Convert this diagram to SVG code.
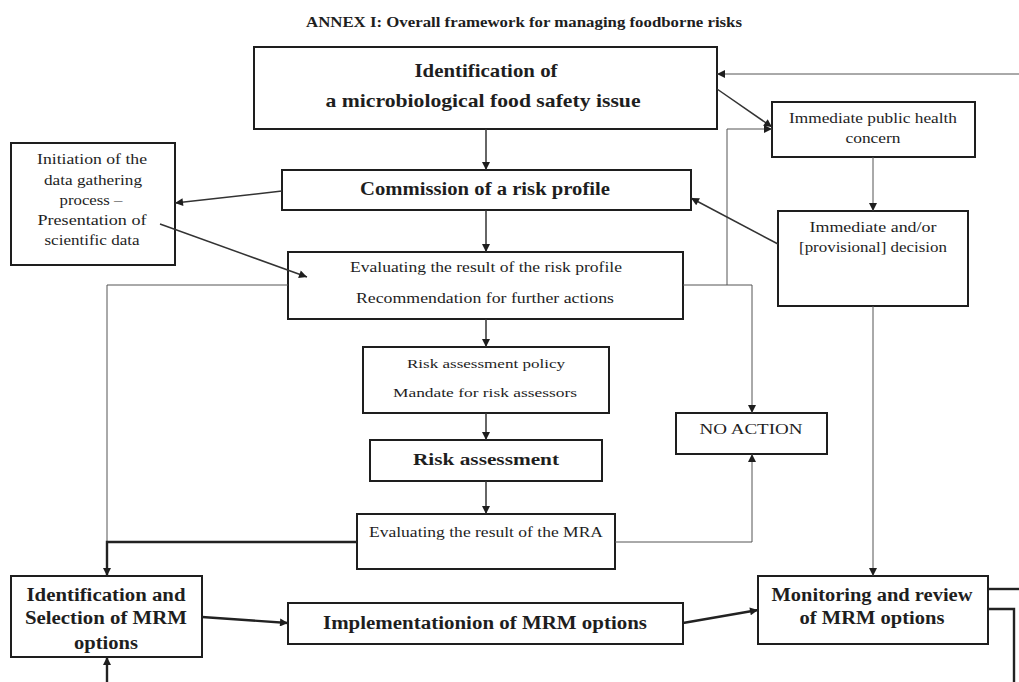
<svg xmlns="http://www.w3.org/2000/svg" width="1019" height="682" viewBox="0 0 1019 682">
<style>
.box{fill:#fff;stroke:#1e1e1e;stroke-width:2}
text{font-family:"Liberation Serif","Times New Roman",serif;fill:#1e1e1e;text-anchor:middle;dominant-baseline:central}
.b{font-weight:bold}
.r{font-weight:normal}
.c{fill:none;stroke:#333}
.thin{stroke-width:1;stroke:#555}
.med{stroke-width:1.5}
.thick{stroke-width:2.4;stroke:#222}
</style>
<defs>
<marker id="ah" viewBox="0 0 10 10" refX="10" refY="5" markerWidth="9" markerHeight="8" markerUnits="userSpaceOnUse" orient="auto">
<path d="M0,0 L10,5 L0,10 z" fill="#1e1e1e"/>
</marker>
</defs>
<rect width="1019" height="682" fill="#fff"/>
<text id="title" class="b" x="524" y="22" font-size="15" textLength="436" lengthAdjust="spacingAndGlyphs">ANNEX I: Overall framework for managing foodborne risks</text>

<g id="nodeA">
<rect class="box" x="254" y="47" width="463" height="82"/>
<text class="b" x="486" y="70" font-size="19" textLength="143" lengthAdjust="spacingAndGlyphs">Identification of</text>
<text class="b" x="483" y="100" font-size="19" textLength="315" lengthAdjust="spacingAndGlyphs">a microbiological food safety issue</text>
</g>
<g id="nodeB">
<rect class="box" x="772" y="102" width="203" height="55"/>
<text class="r" x="873" y="118" font-size="14" textLength="168" lengthAdjust="spacingAndGlyphs">Immediate public health</text>
<text class="r" x="873" y="138" font-size="14" textLength="55" lengthAdjust="spacingAndGlyphs">concern</text>
</g>
<g id="nodeC">
<rect class="box" x="11" y="143" width="164" height="122"/>
<text class="r" x="92" y="159" font-size="15" textLength="110" lengthAdjust="spacingAndGlyphs">Initiation of the</text>
<text class="r" x="93" y="180" font-size="15" textLength="98" lengthAdjust="spacingAndGlyphs">data gathering</text>
<text class="r" x="91" y="200" font-size="15" textLength="63" lengthAdjust="spacingAndGlyphs">process –</text>
<text class="r" x="92" y="220" font-size="15" textLength="109" lengthAdjust="spacingAndGlyphs">Presentation of</text>
<text class="r" x="92" y="240" font-size="15" textLength="95" lengthAdjust="spacingAndGlyphs">scientific data</text>
</g>
<g id="nodeD">
<rect class="box" x="282" y="170" width="409" height="40"/>
<text class="b" x="485" y="189" font-size="18" textLength="250" lengthAdjust="spacingAndGlyphs">Commission of a risk profile</text>
</g>
<g id="nodeE">
<rect class="box" x="778" y="211" width="190" height="95"/>
<text class="r" x="873" y="227" font-size="14" textLength="127" lengthAdjust="spacingAndGlyphs">Immediate and/or</text>
<text class="r" x="873" y="247" font-size="14" textLength="148" lengthAdjust="spacingAndGlyphs">[provisional] decision</text>
</g>
<g id="nodeF">
<rect class="box" x="288" y="252" width="395" height="67"/>
<text class="r" x="486" y="267" font-size="15" textLength="272" lengthAdjust="spacingAndGlyphs">Evaluating the result of the risk profile</text>
<text class="r" x="485" y="298" font-size="15" textLength="258" lengthAdjust="spacingAndGlyphs">Recommendation for further actions</text>
</g>
<g id="nodeG">
<rect class="box" x="363" y="347" width="246" height="66"/>
<text class="r" x="486" y="363" font-size="13" textLength="158" lengthAdjust="spacingAndGlyphs">Risk assessment policy</text>
<text class="r" x="485" y="392" font-size="13" textLength="184" lengthAdjust="spacingAndGlyphs">Mandate for risk assessors</text>
</g>
<g id="nodeH">
<rect class="box" x="676" y="413" width="151" height="41"/>
<text class="r" x="751" y="429" font-size="14" textLength="103" lengthAdjust="spacingAndGlyphs">NO ACTION</text>
</g>
<g id="nodeI">
<rect class="box" x="370" y="440" width="232" height="41"/>
<text class="b" x="486" y="459" font-size="17" textLength="146" lengthAdjust="spacingAndGlyphs">Risk assessment</text>
</g>
<g id="nodeJ">
<rect class="box" x="357" y="514" width="258" height="55"/>
<text class="r" x="486" y="532" font-size="14" textLength="234" lengthAdjust="spacingAndGlyphs">Evaluating the result of the MRA</text>
</g>
<g id="nodeK">
<rect class="box" x="11" y="576" width="191" height="81"/>
<text class="b" x="106" y="595" font-size="18" textLength="159" lengthAdjust="spacingAndGlyphs">Identification and</text>
<text class="b" x="106" y="618" font-size="18" textLength="162" lengthAdjust="spacingAndGlyphs">Selection of MRM</text>
<text class="b" x="106" y="643" font-size="18" textLength="64" lengthAdjust="spacingAndGlyphs">options</text>
</g>
<g id="nodeL">
<rect class="box" x="288" y="603" width="395" height="41"/>
<text class="b" x="485" y="623" font-size="18" textLength="324" lengthAdjust="spacingAndGlyphs">Implementationion of MRM options</text>
</g>
<g id="nodeM">
<rect class="box" x="758" y="576" width="230" height="68"/>
<text class="b" x="872" y="595" font-size="18" textLength="201" lengthAdjust="spacingAndGlyphs">Monitoring and review</text>
<text class="b" x="872" y="618" font-size="18" textLength="145" lengthAdjust="spacingAndGlyphs">of MRM options</text>
</g>

<g id="connectors">
<path class="c med" d="M486,129 V170" marker-end="url(#ah)"/>
<path class="c med" d="M486,210 V252" marker-end="url(#ah)"/>
<path class="c med" d="M486,319 V347" marker-end="url(#ah)"/>
<path class="c med" d="M486,413 V440" marker-end="url(#ah)"/>
<path class="c med" d="M486,481 V514" marker-end="url(#ah)"/>
<path class="c med" d="M282,191 L175,203" marker-end="url(#ah)"/>
<path class="c med" d="M160,224 L307,277" marker-end="url(#ah)"/>
<path class="c thin" d="M288,285 H107 V542"/>
<path class="c thick" d="M357,542 H107 V576" marker-end="url(#ah)"/>
<path class="c thin" d="M615,542 H752 V454" marker-end="url(#ah)"/>
<path class="c thin" d="M683,285 H752 V413" marker-end="url(#ah)"/>
<path class="c thin" d="M727,285 V129 H772" marker-end="url(#ah)"/>
<path class="c med" d="M717,89 L772,127" marker-end="url(#ah)"/>
<path class="c thin" d="M1019,74 H717" marker-end="url(#ah)"/>
<path class="c thin" d="M873,157 V211" marker-end="url(#ah)"/>
<path class="c thin" d="M873,306 V576" marker-end="url(#ah)"/>
<path class="c med" d="M778,244 L691,198" marker-end="url(#ah)"/>
<path class="c thick" d="M202,617 L288,623" marker-end="url(#ah)"/>
<path class="c thick" d="M683,623 L758,610" marker-end="url(#ah)"/>
<path class="c thick" d="M988,589 H1019"/>
<path class="c thick" d="M988,609 H1014 V682"/>
<path class="c thick" d="M107,682 V657" marker-end="url(#ah)"/>
</g>
</svg>
